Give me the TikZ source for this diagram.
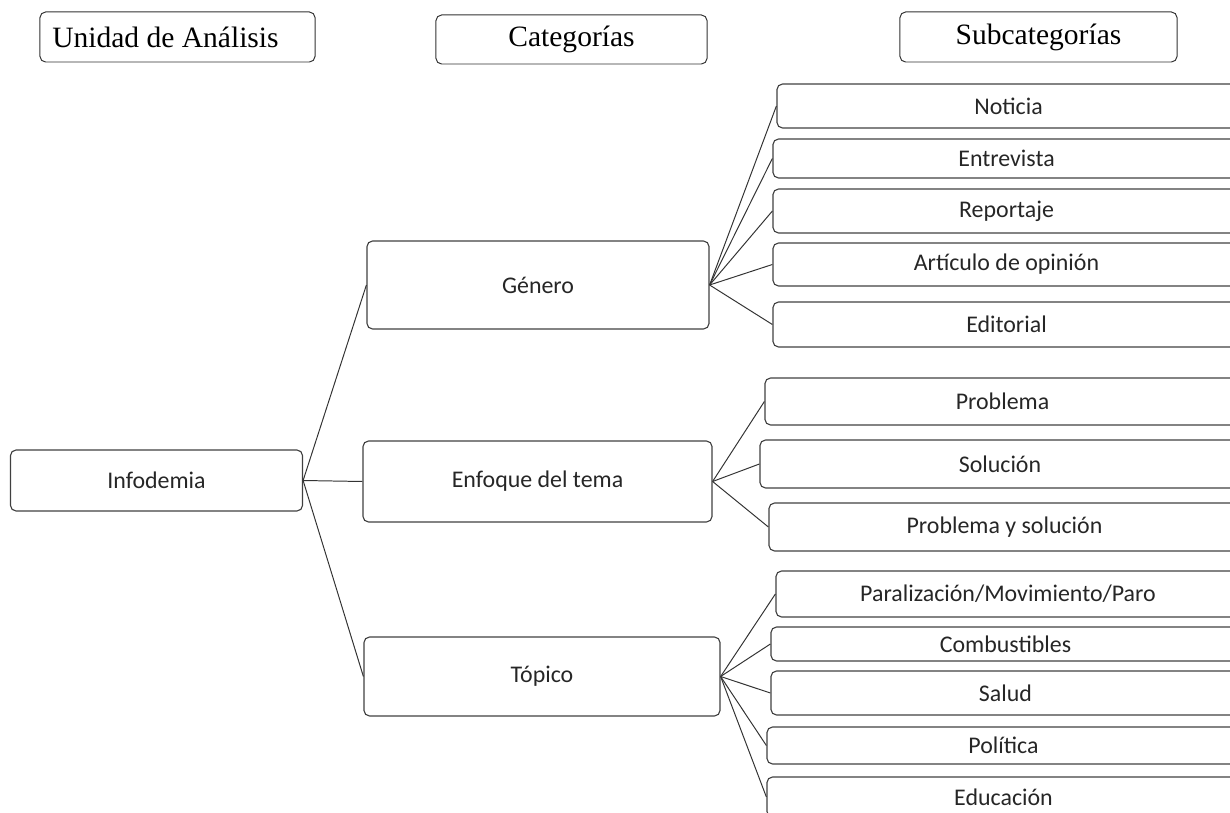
\documentclass[tikz,border=0pt]{standalone}
\usepackage{fontspec}
\setmainfont{Liberation Serif}
\newfontfamily\calibri{Carlito}
\usepackage{xcolor}
\usepackage{tikz}

\begin{document}
\begin{tikzpicture}[x=0.025cm,y=-0.025cm,
    caja/.style={draw=black!75,line width=0.8pt,rounded corners=4pt,inner sep=0pt,
        font=\calibri\fontsize{17}{20}\selectfont,text=black!85},
    titulo/.style={draw=black!80,line width=0.7pt,rounded corners=4pt,inner sep=0pt,
        font=\fontsize{21}{24}\selectfont},
    rama/.style={draw=black!80,line width=0.7pt}]
    \useasboundingbox (0,0) rectangle (1230,813);
    % encabezados
    \node[titulo,minimum width=6.875cm,minimum height=1.25cm] (unidad) at (177.5,37) {\hspace*{-0.6cm}Unidad de Análisis};
    \node[titulo,minimum width=6.775cm,minimum height=1.225cm] (categorias) at (571.5,39.5) {Categorías};
    \node[titulo,minimum width=6.925cm,minimum height=1.25cm] (subcategorias) at (1038.5,37) {Subcategorías};
    % unidad y categorias
    \node[caja,minimum width=7.3cm,minimum height=1.525cm] (infodemia) at (156.5,480.5) {Infodemia};
    \node[caja,minimum width=8.55cm,minimum height=2.2cm] (genero) at (538,285) {Género};
    \node[caja,minimum width=8.725cm,minimum height=2.025cm] (enfoque) at (537.5,481.5) {Enfoque del tema};
    \node[caja,minimum width=8.9cm,minimum height=1.975cm] (topico) at (542,676.5) {Tópico};
    % subcategorias de genero
    \node[caja,minimum width=11.575cm,minimum height=1.1cm] (noticia) at (1008.5,106) {Noticia};
    \node[caja,minimum width=11.675cm,minimum height=0.975cm] (entrevista) at (1006.5,158.5) {Entrevista};
    \node[caja,minimum width=11.675cm,minimum height=1.1cm] (reportaje) at (1006.5,211) {Reportaje};
    \node[caja,minimum width=11.675cm,minimum height=1.075cm] (articulo) at (1006.5,264.5) {Artículo de opinión};
    \node[caja,minimum width=11.675cm,minimum height=1.125cm] (editorial) at (1006.5,324.5) {Editorial};
    % subcategorias de enfoque
    \node[caja,minimum width=11.875cm,minimum height=1.175cm] (problema) at (1002.5,401.5) {Problema};
    \node[caja,minimum width=12cm,minimum height=1.2cm] (solucion) at (1000,464) {Solución};
    \node[caja,minimum width=11.775cm,minimum height=1.2cm] (probsol) at (1004.5,527) {Problema y solución};
    % subcategorias de topico
    \node[caja,minimum width=11.6cm,minimum height=1.15cm] (paralizacion) at (1008,594) {Paralización/Movimiento/Paro};
    \node[caja,minimum width=11.725cm,minimum height=0.85cm] (combustibles) at (1005.5,644) {Combustibles};
    \node[caja,minimum width=11.725cm,minimum height=1.1cm] (salud) at (1005.5,693) {Salud};
    \node[caja,minimum width=11.825cm,minimum height=0.925cm] (politica) at (1003.5,745.5) {Política};
    \node[caja,minimum width=11.825cm,minimum height=1cm] (educacion) at (1003.5,797) {Educación};
    % ramas
    \foreach \c in {genero,enfoque,topico}
        \draw[rama] (infodemia.east) to (\c.west);
    \foreach \s in {noticia,entrevista,reportaje,articulo,editorial}
        \draw[rama] (genero.east) to (\s.west);
    \foreach \s in {problema,solucion,probsol}
        \draw[rama] (enfoque.east) to (\s.west);
    \foreach \s in {paralizacion,combustibles,salud,politica,educacion}
        \draw[rama] (topico.east) to (\s.west);
\end{tikzpicture}
\end{document}
